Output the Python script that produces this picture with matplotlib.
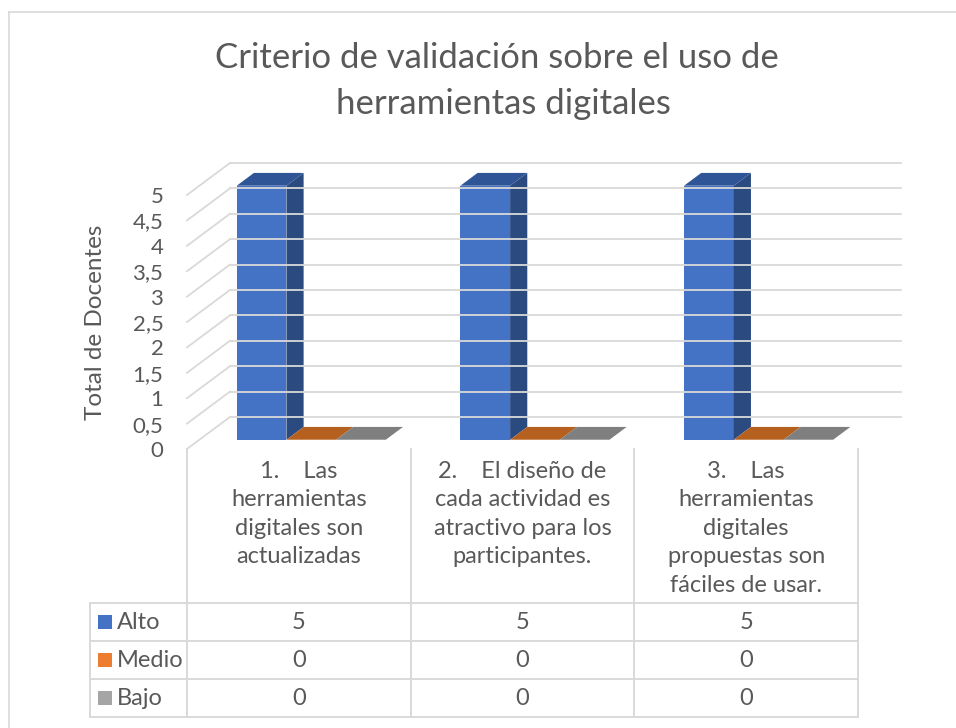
import matplotlib.pyplot as plt
from matplotlib.patches import Polygon, Rectangle
from matplotlib.lines import Line2D

plt.rcParams['font.family'] = ['Lato', 'DejaVu Sans']

# data
categories = [
    "1.    Las\nherramientas\ndigitales son\nactualizadas",
    "2.    El diseño de\ncada actividad es\natractivo para los\nparticipantes.",
    "3.    Las\nherramientas\ndigitales\npropuestas son\nfáciles de usar.",
]
series = ["Alto", "Medio", "Bajo"]
alto = [5, 5, 5]
medio = [0, 0, 0]
bajo = [0, 0, 0]
values = [alto, medio, bajo]
yticks = [0, 0.5, 1, 1.5, 2, 2.5, 3, 3.5, 4, 4.5, 5]

front_col = ["#4472C4", "#ED7D31", "#A5A5A5"]
top_col = ["#2F5597", "#B5601F", "#7F7F7F"]
side_col = ["#2B4A80", "#A0521A", "#6E6E6E"]
grid_col = "#D9D9D9"
txt_col = "#595959"

W, H = 956, 728
fig = plt.figure(figsize=(W / 100, H / 100), dpi=100)

# chart border
fig.add_artist(Line2D([9 / W, 1], [1 - 12 / H, 1 - 12 / H], color=grid_col, lw=1.2))
fig.add_artist(Line2D([9 / W, 9 / W], [1 - 12 / H, 0], color=grid_col, lw=1.2))

fig.text(497 / W, 1 - 58 / H, "Criterio de validación sobre el uso de", ha="center",
         va="center", fontsize=25, color=txt_col)
fig.text(503 / W, 1 - 104 / H, "herramientas digitales", ha="center",
         va="center", fontsize=25, color=txt_col)

# main 3d-ish plot area (front plane: x 0..3, y 0..5)
ax = fig.add_axes([187 / W, 1 - 449 / H, 671 / W, 254 / H])
ax.set_xlim(0, 3)
ax.set_ylim(0, 5)
for s in ax.spines.values():
    s.set_visible(False)
ax.set_xticks([])
ax.set_yticks(yticks)
ax.set_yticklabels([("%g" % v).replace(".", ",") for v in yticks])
ax.tick_params(axis="y", length=0, pad=17, labelsize=16, labelcolor=txt_col)
ax.text(-0.137, 0.5, "Total de Docentes", transform=ax.transAxes, rotation=90,
        ha="center", va="center", fontsize=17.5, color=txt_col)

dx, dy = 0.192, 0.63   # depth offset (category units, value units)

for v in yticks:
    ax.add_line(Line2D([dx, 3 + dx], [v + dy, v + dy], color=grid_col, lw=1.3, clip_on=False))
    ax.add_line(Line2D([0, dx], [v, v + dy], color=grid_col, lw=1.3, clip_on=False))

n = len(series)
gap = 1.5
w = 1 / (n + gap)
f0, f1 = 0.29, 0.69
for i in range(len(categories)):
    for s in range(n):
        v = values[s][i]
        x0 = i + gap * w / 2 + s * w
        x1 = x0 + w
        top = [(x0 + f0 * dx, v + f0 * dy), (x1 + f0 * dx, v + f0 * dy),
               (x1 + f1 * dx, v + f1 * dy), (x0 + f1 * dx, v + f1 * dy)]
        if v > 0:
            ax.add_patch(Rectangle((x0 + f0 * dx, f0 * dy), w, v, facecolor=front_col[s],
                                   edgecolor="none", clip_on=False))
            side = [(x1 + f0 * dx, f0 * dy), (x1 + f1 * dx, f1 * dy),
                    (x1 + f1 * dx, v + f1 * dy), (x1 + f0 * dx, v + f0 * dy)]
            ax.add_patch(Polygon(side, closed=True, facecolor=side_col[s],
                                 edgecolor="none", clip_on=False))
        ax.add_patch(Polygon(top, closed=True, facecolor=top_col[s],
                             edgecolor="none", clip_on=False))

# data table
tax = fig.add_axes([90 / W, 1 - 717.3 / H, 768 / W, 268.3 / H])
tax.set_xlim(-97 / 223.7, 3)
tax.set_ylim(0, 268.3 / 38)
tax.axis("off")
left = -97 / 223.7
hdr = 268.3 / 38
for r in range(n + 1):
    tax.add_line(Line2D([left, 3], [r, r], color=grid_col, lw=1.4, clip_on=False))
tax.add_line(Line2D([left, left], [0, n], color=grid_col, lw=1.4, clip_on=False))
for c in range(len(categories) + 1):
    tax.add_line(Line2D([c, c], [0, hdr], color=grid_col, lw=1.4, clip_on=False))

for i, lab in enumerate(categories):
    tax.text(i + 0.5, hdr - 0.31, lab, ha="center", va="top", fontsize=17,
             color=txt_col, linespacing=1.44)

for s, name in enumerate(series):
    yc = n - s - 0.5
    tax.add_patch(Rectangle((left + 7.7 / 223.7, yc - 0.18), 14 / 223.7, 0.37,
                            facecolor=front_col[s], edgecolor="none"))
    tax.text(left + 27.3 / 223.7, yc, name, ha="left", va="center", fontsize=17,
             color=txt_col)
    for i in range(len(categories)):
        tax.text(i + 0.5, yc, "%g" % values[s][i], ha="center", va="center",
                 fontsize=17, color=txt_col)

fig.savefig("out.png", dpi=100)
